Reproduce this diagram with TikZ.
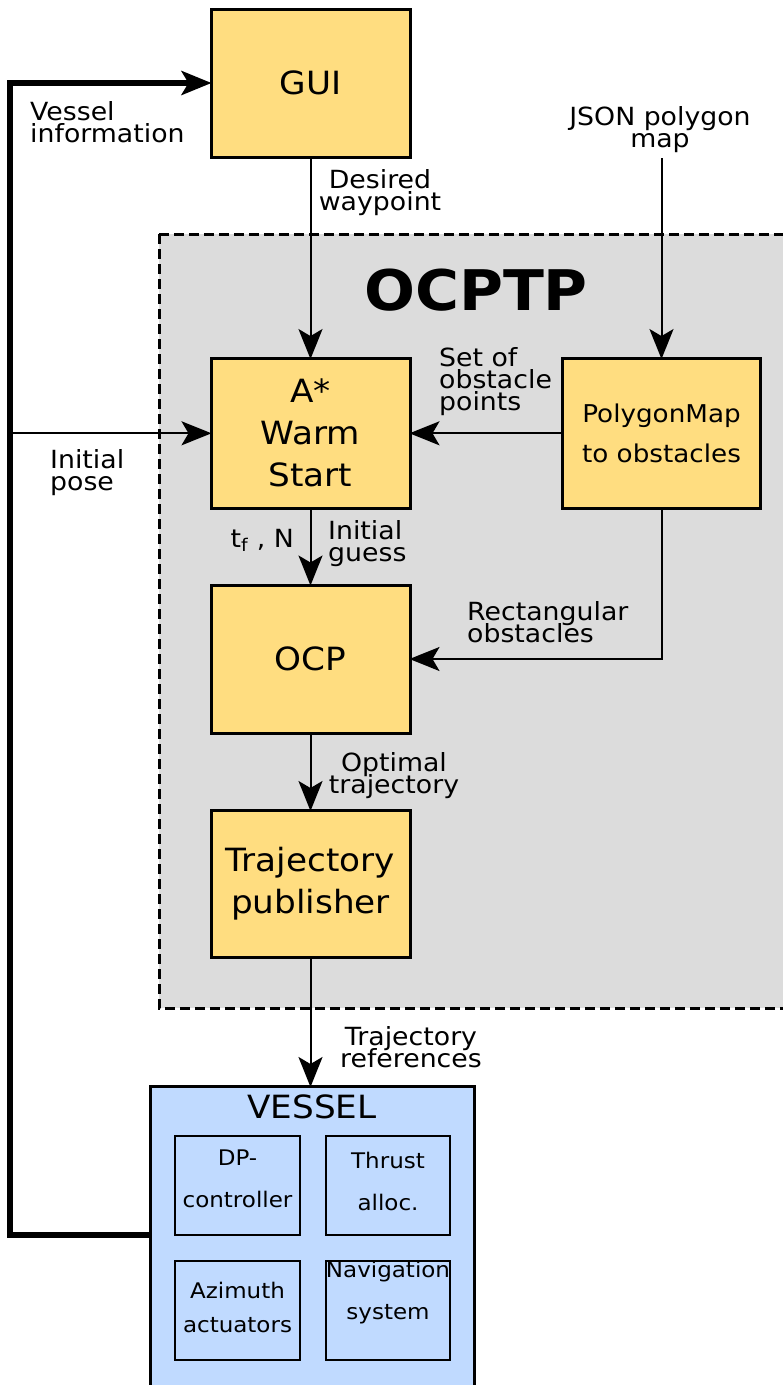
\documentclass[tikz,border=0pt]{standalone}
\usepackage{fontspec}
\setmainfont{DejaVu Sans}[FakeStretch=1.07]
\usetikzlibrary{arrows.meta}
\definecolor{boxyellow}{HTML}{FFDD80}
\definecolor{vesselblue}{HTML}{C0DAFF}
\definecolor{ocpgrey}{HTML}{DCDCDC}
\newcommand\boxfont{\fontsize{32}{42}\selectfont\lineskiplimit=-100pt}
\newcommand\polyfont{\fontsize{24.5}{40}\selectfont\lineskiplimit=-100pt}
\newcommand\lblfont{\fontsize{25}{21.7}\selectfont\lineskiplimit=-100pt}
\newcommand\subfont{\fontsize{21.5}{42}\selectfont\lineskiplimit=-100pt}
\newcommand\subfontb{\fontsize{21.5}{34}\selectfont\lineskiplimit=-100pt}
\begin{document}
\begin{tikzpicture}[x=1pt,y=-1pt,
  box/.style={draw, line width=3pt, fill=boxyellow, minimum width=199pt, minimum height=148pt, align=center, inner sep=0pt, font=\boxfont},
  vesselbox/.style={draw, line width=3pt, fill=vesselblue, minimum width=324pt, minimum height=320pt, inner sep=0pt},
  subbox/.style={draw, line width=2.2pt, fill=vesselblue, minimum width=125pt, minimum height=99pt, align=center, inner sep=0pt, font=\subfont},
  lbl/.style={inner sep=0pt, font=\lblfont},
  dashbox/.style={draw, fill=ocpgrey, line width=3pt, dash pattern=on 10pt off 5pt},
  conn/.style={line width=2pt, shorten >=-2pt, -{Stealth[length=30pt, width=24pt, inset=7pt]}},
  thickconn/.style={line width=5.5pt, shorten >=-2pt, -{Stealth[length=30pt, width=24pt, inset=7pt]}}
]
\useasboundingbox (0,0) rectangle (783,1385);
\fill[white] (0,0) rectangle (783,1385);

% OCPTP region
\path[dashbox] (159,234) rectangle (830,1008);
\node[inner sep=0pt, anchor=base, font=\fontsize{56}{60}\selectfont\bfseries] (ocptp) at (476,310) {OCPTP};

% main boxes
\node[box] (gui) at (310.5,83) {GUI};
\node[box, minimum height=149.5pt] (astar) at (310.5,433.3) {A*\\Warm\\Start};
\node[box, minimum width=198pt, minimum height=149.5pt, font=\polyfont] (poly) at (661.5,433.3) {PolygonMap\\to obstacles};
\node[box] (ocp) at (310.5,659) {OCP};
\node[box, minimum height=147pt] (pub) at (310.5,884) {Trajectory\\publisher};

% vessel
\node[vesselbox] (vessel) at (312.5,1246.5) {};
\node[inner sep=0pt, anchor=base, font=\boxfont] (vtitle) at (312,1118) {VESSEL};
\node[subbox, text depth=14pt] (dp) at (237.5,1185.5) {DP-\\controller};
\node[subbox, minimum width=124pt, text depth=9pt] (thrust) at (388,1185.5) {Thrust\\alloc.};
\node[subbox, font=\subfontb, text depth=7pt] (azi) at (237.5,1310.5) {Azimuth\\actuators};
\node[subbox, minimum width=124pt, text height=22pt] (nav) at (388,1310.5) {Navigation\\system};

% labels (anchored at the baseline of their last line)
\node[lbl, anchor=base west, align=left] (vinfo) at (30,142) {Vessel\\information};
\node[lbl, anchor=base, align=center] (dwp) at (380,210) {Desired\\waypoint};
\node[lbl, anchor=base, align=center] (jsonlbl) at (660,147) {JSON polygon\\map};
\node[lbl, anchor=base west, align=left] (setlbl) at (439,410) {Set of\\obstacle\\points};
\node[lbl, anchor=base west, align=left] (iplbl) at (50,490) {Initial\\pose};
\node[lbl, anchor=base east] (tflbl) at (294,547) {t\textsubscript{f} , N};
\node[lbl, anchor=base west, align=left] (iglbl) at (328,561) {Initial\\guess};
\node[lbl, anchor=base west, align=left] (rectlbl) at (467,642) {Rectangular\\obstacles};
\node[lbl, anchor=base, align=center] (optlbl) at (394,793) {Optimal\\trajectory};
\node[lbl, anchor=base, align=center] (treflbl) at (411,1067) {Trajectory\\references};

% free-end coordinates
\coordinate (jsonpt) at (661.5,158);
\coordinate (fbtop) at (10,83);
\coordinate (fbbot) at (10,1235);
\coordinate (fbpose) at (10,433.3);

% connectors
\draw[conn] (gui.south) -- (astar.north);
\draw[conn] (jsonpt) -- (poly.north);
\draw[conn] (poly.west) -- (astar.east);
\draw[conn] (poly.south) |- (ocp.east);
\draw[conn] (astar.south) -- (ocp.north);
\draw[conn] (ocp.south) -- (pub.north);
\draw[conn] (pub.south) -- (pub.south |- vessel.north);
\draw[conn] (fbpose) -- (astar.west);
\draw[thickconn] (vessel.west |- fbbot) -- (fbbot) -- (fbtop) -- (gui.west);
\end{tikzpicture}
\end{document}
